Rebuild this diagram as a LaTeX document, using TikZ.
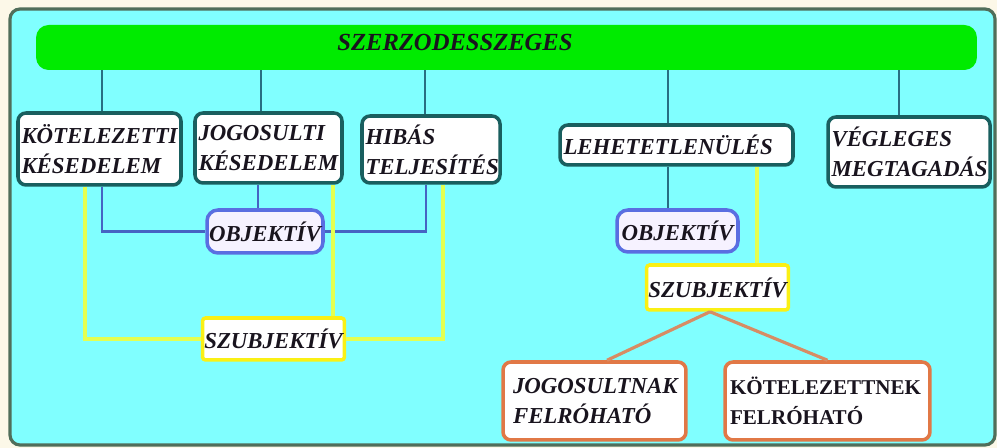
\documentclass[tikz,border=0pt]{standalone}
\usepackage{fontspec}
\setmainfont{Liberation Serif}

\definecolor{framecream}{RGB}{252,248,232}
\definecolor{frameolive}{RGB}{80,110,90}
\definecolor{panelcyan}{RGB}{128,255,255}
\definecolor{bargreen}{RGB}{0,235,0}
\definecolor{boxteal}{RGB}{25,95,95}
\definecolor{linkteal}{RGB}{40,110,130}
\definecolor{objblue}{RGB}{90,110,225}
\definecolor{objfill}{RGB}{246,242,255}
\definecolor{linkblue}{RGB}{70,100,195}
\definecolor{szubyellow}{RGB}{250,240,20}
\definecolor{linkyellow}{RGB}{228,255,80}
\definecolor{felorange}{RGB}{225,120,70}
\definecolor{linkorange}{RGB}{215,140,100}
\definecolor{inktext}{RGB}{25,20,30}

\begin{document}
\begin{tikzpicture}[x=0.02cm, y=-0.02cm,
    fobox/.style={draw=boxteal, line width=2pt, fill=white, rounded corners=0.16cm,
      align=left, inner xsep=2pt, inner ysep=1pt, text=inktext,
      font=\fontsize{13}{17}\selectfont\bfseries\itshape},
    objbox/.style={draw=objblue, line width=2pt, fill=objfill, rounded corners=0.22cm,
      inner sep=1pt, text=inktext, font=\fontsize{13}{15}\selectfont\bfseries\itshape},
    szubbox/.style={draw=szubyellow, line width=2pt, fill=white, rounded corners=0.06cm,
      inner sep=1pt, text=inktext, font=\fontsize{13}{15}\selectfont\bfseries\itshape},
    felbox/.style={draw=felorange, line width=2pt, fill=white, rounded corners=0.16cm,
      align=left, inner xsep=0.2cm, inner ysep=1pt, text=inktext,
      font=\fontsize{13}{17}\selectfont\bfseries\itshape},
    tealline/.style={linkteal, line width=1.3pt},
    blueline/.style={linkblue, line width=1.3pt},
    yellowline/.style={linkyellow, line width=2.2pt},
    orangeline/.style={linkorange, line width=1.8pt}]

  \useasboundingbox (0,0) rectangle (997,448);
  \fill [framecream] (0,0) rectangle (997,448);
  \draw [frameolive, line width=1.8pt, fill=panelcyan, rounded corners=0.2cm] (10,9) rectangle (995,445);

  % top bar
  \node (bar) [fill=bargreen, rounded corners=0.25cm, minimum width=18.82cm, minimum height=0.9cm, inner sep=0pt] at (506.5,47.5) {};
  \node (title) [text=inktext, font=\fontsize{14}{14}\selectfont\bfseries\itshape] at (455,42) {SZERZODESSZEGES};

  % first row
  \node (kotkes) [fobox, text width=3.12cm, minimum height=1.44cm] at (99.5,149) {KÖTELEZETTI\\KÉSEDELEM};
  \node (jogkes) [fobox, text width=2.80cm, minimum height=1.40cm] at (268.5,148) {JOGOSULTI\\KÉSEDELEM};
  \node (hibas) [fobox, text width=2.62cm, minimum height=1.34cm] at (431,149.5) {HIBÁS\\TELJESÍTÉS};
  \node (lehet) [fobox, text width=4.52cm, minimum height=0.80cm] at (676.5,145) {LEHETETLENÜLÉS};
  \node (vegleges) [fobox, text width=3.10cm, minimum height=1.40cm] at (909,152) {VÉGLEGES\\MEGTAGADÁS};

  % lower boxes
  \node (obj1) [objbox, minimum width=2.32cm, minimum height=0.86cm] at (265,231.5) {OBJEKTÍV};
  \node (szub1) [szubbox, minimum width=2.66cm, minimum height=0.84cm] at (273.5,339) {SZUBJEKTÍV};
  \node (obj2) [objbox, minimum width=2.42cm, minimum height=0.84cm] at (677.5,231) {OBJEKTÍV};
  \node (szub2) [szubbox, minimum width=2.70cm, minimum height=0.90cm] at (717.5,287.5) {SZUBJEKTÍV};
  \node (jogfel) [felbox, text width=3.26cm, minimum height=1.56cm] at (594.5,401) {JOGOSULTNAK\\FELRÓHATÓ};
  \node (kotfel) [felbox, font=\fontsize{12}{17}\selectfont\bfseries, inner xsep=0.1cm, text width=3.9cm, minimum height=1.56cm] at (827.5,401) {KÖTELEZETTNEK\\FELRÓHATÓ};

  % links from the bar
  \draw [tealline] ([xshift=0.05cm]kotkes.north) -- ([xshift=0.05cm]kotkes.north |- bar.south);
  \draw [tealline] ([xshift=-0.15cm]jogkes.north) -- ([xshift=-0.15cm]jogkes.north |- bar.south);
  \draw [tealline] ([xshift=-0.12cm]hibas.north) -- ([xshift=-0.12cm]hibas.north |- bar.south);
  \draw [tealline] ([xshift=-0.17cm]lehet.north) -- ([xshift=-0.17cm]lehet.north |- bar.south);
  \draw [tealline] ([xshift=-0.2cm]vegleges.north) -- ([xshift=-0.2cm]vegleges.north |- bar.south);

  % objektiv, left
  \draw [blueline] ([xshift=0.05cm]kotkes.south) |- (obj1.west);
  \draw [blueline] ([xshift=-0.21cm]jogkes.south) -- ([xshift=-0.21cm]jogkes.south |- obj1.north);
  \draw [blueline] ([xshift=-0.1cm]hibas.south) |- (obj1.east);

  % szubjektiv, left
  \draw [yellowline] ([xshift=-0.29cm]kotkes.south) |- (szub1.west);
  \draw [yellowline] ([xshift=1.29cm]jogkes.south) -- ([xshift=1.29cm]jogkes.south |- szub1.north);
  \draw [yellowline] ([xshift=0.24cm]hibas.south) |- (szub1.east);

  % right
  \draw [tealline] ([xshift=-0.17cm]lehet.south) -- ([xshift=-0.17cm]lehet.south |- obj2.north);
  \draw [yellowline] ([xshift=1.61cm]lehet.south) -- ([xshift=1.61cm]lehet.south |- szub2.north);
  \draw [orangeline] ([xshift=-0.15cm]szub2.south) -- ([xshift=0.25cm]jogfel.north);
  \draw [orangeline] ([xshift=-0.15cm]szub2.south) -- (kotfel.north);
\end{tikzpicture}
\end{document}
